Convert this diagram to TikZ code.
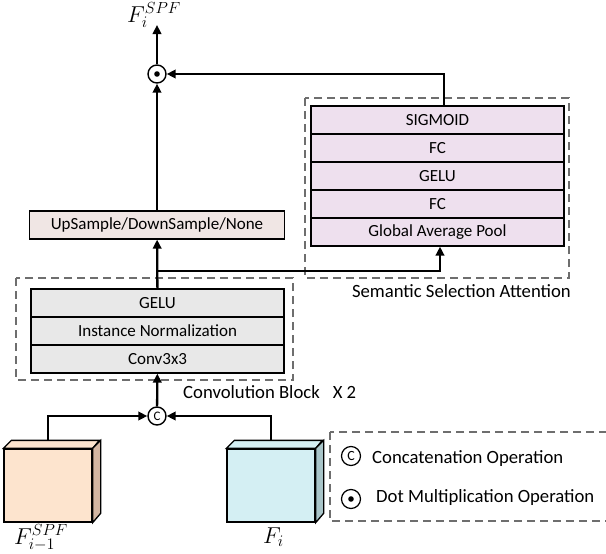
\documentclass[tikz,border=0pt]{standalone}
\usepackage{fix-cm}
\usepackage{fontspec}
\setmainfont{Carlito}
\usetikzlibrary{arrows.meta,calc}

\definecolor{dashgray}{HTML}{6E6E6E}
\definecolor{convfill}{HTML}{E8E8E8}
\definecolor{ssafill}{HTML}{EEE0EE}
\definecolor{upfill}{HTML}{F0E6E4}
\definecolor{peachfront}{HTML}{FDE4CE}
\definecolor{peachside}{HTML}{D3B6A2}
\definecolor{cyanfront}{HTML}{D4EFF3}
\definecolor{cyanside}{HTML}{A9C5C9}

\begin{document}
\begin{tikzpicture}[x=1pt,y=-1pt,
  txt/.style={font=\fontsize{18.7}{22}\selectfont},
  layer/.style={draw=black,line width=1.3pt,minimum width=253pt,minimum height=28pt,
    inner sep=0pt,font=\fontsize{17}{20}\selectfont},
  grp/.style={draw=dashgray,line width=2pt,dash pattern=on 8pt off 5pt},
  arr/.style={draw=black,line width=2.3pt,-{Triangle[length=9pt,width=8.5pt]}},
  op/.style={circle,draw=black,line width=1.4pt,minimum size=18pt,inner sep=0pt,fill=white},
  mathlbl/.style={font=\fontsize{23}{27}\selectfont,inner sep=0pt},
  face/.style={draw=black,line width=1.3pt}]

\clip (0,0) rectangle (606,554);
\fill[white] (0,0) rectangle (606,554);

% dashed group frames
\draw[grp] (305,98) rectangle (569,278);
\draw[grp] (16,278) rectangle (293,380);
\draw[grp] (330,432) rectangle (620,521);

% convolution block
\node[layer,fill=convfill] (cgelu) at (157.5,303) {GELU};
\node[layer,fill=convfill] (cnorm) at (157.5,331) {Instance Normalization};
\node[layer,fill=convfill] (cconv) at (157.5,359) {Conv3x3};

% semantic selection attention
\node[layer,fill=ssafill] (sig)  at (437.5,120) {SIGMOID};
\node[layer,fill=ssafill] (fca)  at (437.5,148) {FC};
\node[layer,fill=ssafill] (gelu) at (437.5,176) {GELU};
\node[layer,fill=ssafill] (fcb)  at (437.5,204) {FC};
\node[layer,fill=ssafill] (gap)  at (437.5,232) {Global Average Pool};

% resampling
\node[layer,fill=upfill,minimum width=255pt] (up) at (157,225) {UpSample/DownSample/None};

% operators
\node[op] (cat) at (157,416) {\fontsize{13}{14}\selectfont C};
\node[op] (dot) at (157,74) {};
\fill (dot) circle (2.8pt);

% input feature cubes
\node[face,fill=peachfront,minimum width=88pt,minimum height=73pt,inner sep=0pt] (lcube) at (48,485.5) {};
\filldraw[face,fill=peachfront] (lcube.north west) -- ++(8,-8) -- ++(88,0) -- (lcube.north east) -- cycle;
\filldraw[face,fill=peachside] (lcube.north east) -- ++(8,-8) -- ++(0,73) -- (lcube.south east) -- cycle;
\node[face,fill=cyanfront,minimum width=88pt,minimum height=73pt,inner sep=0pt] (rcube) at (271,485.5) {};
\filldraw[face,fill=cyanfront] (rcube.north west) -- ++(8,-8) -- ++(88,0) -- (rcube.north east) -- cycle;
\filldraw[face,fill=cyanside] (rcube.north east) -- ++(8,-8) -- ++(0,73) -- (rcube.south east) -- cycle;
\coordinate (ltop) at ($(lcube.north)+(0,-8)$);
\coordinate (rtop) at ($(rcube.north)+(0,-8)$);

% labels
\node[mathlbl,anchor=base west] (out) at (127,22) {$F_i^{SPF}$};
\node[mathlbl,anchor=base west] (lin) at (14,544) {$F_{i-1}^{SPF}$};
\node[mathlbl,anchor=base west] (rin) at (263,543) {$F_i$};
\node[txt,anchor=base east,inner sep=0pt] (ssalbl) at (571,297) {Semantic Selection Attention};
\node[txt,anchor=base west,inner sep=0pt] (convlbl) at (183,398) {Convolution Block\hspace{13pt}X 2};

% connectors
\draw[arr] (ltop) |- (cat);
\draw[arr] (rtop) |- (cat);
\draw[arr] (cat) -- (cconv);
\draw[arr] (cgelu) -- (up);
\coordinate (split) at (157,271);
\draw[arr] (split) -| ([xshift=2.5pt]gap.south);
\draw[arr] (up) -- (dot);
\draw[arr] ([xshift=6.5pt]sig.north) |- (dot);
\coordinate (outtip) at (157,25);
\draw[arr] (dot) -- (outtip);

% legend
\node[op,line width=1.2pt,minimum size=19pt] (lgc) at (351,456) {\fontsize{14}{15}\selectfont C};
\node[txt,anchor=base west,inner sep=0pt] (lgctxt) at (372,463) {Concatenation Operation};
\node[op,line width=1.2pt,minimum size=19pt] (lgd) at (351,499) {};
\fill (lgd) circle (2.8pt);
\node[txt,anchor=base west,inner sep=0pt] (lgdtxt) at (376,502) {Dot Multiplication Operation};
\end{tikzpicture}
\end{document}
